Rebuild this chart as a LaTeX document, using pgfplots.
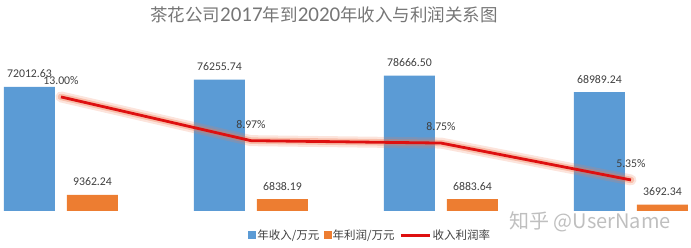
\documentclass[border=0pt]{standalone}
\usepackage{fontspec}
\setmainfont{Carlito}
\newfontfamily\cjk{Noto Sans CJK SC}
\usepackage{pgfplots}
\pgfplotsset{compat=1.18}
\definecolor{cblue}{HTML}{5B9BD5}
\definecolor{corange}{HTML}{ED7D31}
\definecolor{cred}{HTML}{DE1010}
\definecolor{cglow}{HTML}{F07A50}
\definecolor{lbl}{HTML}{404040}
\definecolor{ttl}{HTML}{767676}
\pgfplotsset{
  base/.style={
    at={(0pt,37pt)}, anchor=south west,
    scale only axis, width=691pt, height=155pt,
    xmin=-0.321, xmax=3.316,
    axis lines=none, ticks=none, clip=false,
  },
  bluesq/.style={legend image code/.code={\fill[cblue] (0pt,-3.5pt) rectangle (7pt,3.5pt);}},
  orangesq/.style={legend image code/.code={\fill[corange] (0pt,-3.5pt) rectangle (7pt,3.5pt);}},
  redln/.style={legend image code/.code={\draw[cred, line width=3pt] (0pt,0pt) -- (29pt,0pt);}},
}
\begin{document}
\begin{tikzpicture}
\path[use as bounding box] (0pt,0pt) rectangle (691pt,248pt);
\begin{axis}[base,
  ymin=0, ymax=90000,
  ybar, bar width=51pt,
  nodes near coords, point meta=explicit symbolic,
  every node near coord/.append style={font=\fontsize{11.8}{12}\selectfont, text=lbl, yshift=5.5pt},
]
\addplot[draw=none, fill=cblue, bar shift=-31.5pt] coordinates {
 (0,72012.63) [72012.63]
 (1,76255.74) [76255.74]
 (2,78666.50) [78666.50]
 (3,68989.24) [68989.24]
};
\addplot[draw=none, fill=corange, bar shift=31.5pt] coordinates {
 (0,9362.24) [9362.24]
 (1,6838.19) [6838.19]
 (2,6883.64) [6883.64]
 (3,3692.34) [3692.34]
};
\end{axis}
\begin{axis}[base,
  ymin=2.49, ymax=16.77,
  legend columns=3,
  legend style={draw=none, fill=none, at={(rel axis cs:0.5355,-0.155)}, anchor=center,
    font=\cjk\fontsize{11.5}{12}\selectfont, text=lbl,
    nodes={inner xsep=1.5pt, inner ysep=1pt},
    /tikz/every even column/.append style={column sep=3pt}},
]
\addlegendimage{bluesq}
\addlegendentry{年收入/万元}
\addlegendimage{orangesq}
\addlegendentry{年利润/万元}
\addlegendimage{redln}
\addlegendentry{收入利润率}
\addplot[forget plot, cglow, opacity=0.2, line width=11pt, line join=round, line cap=round] coordinates {(0,13.00) (1,8.97) (2,8.75) (3,5.35)};
\addplot[forget plot, cglow, opacity=0.35, line width=6.5pt, line join=round, line cap=round] coordinates {(0,13.00) (1,8.97) (2,8.75) (3,5.35)};
\addplot[forget plot, cred, line width=2.8pt, line join=round,
  nodes near coords={\pgfplotspointmeta\%}, point meta=explicit symbolic,
  every node near coord/.append style={font=\fontsize{11.8}{12}\selectfont, text=lbl, yshift=7.5pt}]
 coordinates {
 (0,13.00) [13.00]
 (1,8.97) [8.97]
 (2,8.75) [8.75]
 (3,5.35) [5.35]
};
\end{axis}
\node[anchor=base, text=ttl] at (324pt,226pt) {{\cjk\fontsize{17.5}{18}\selectfont 茶花公司}{\fontsize{21}{22}\selectfont 2017}{\cjk\fontsize{17.5}{18}\selectfont 年到}{\fontsize{21}{22}\selectfont 2020}{\cjk\fontsize{17.5}{18}\selectfont 年收入与利润关系图}};
\node[text=black!25, font=\cjk\fontsize{20}{21}\selectfont, anchor=center] at (590pt,26pt) {知乎 @UserName};
\end{tikzpicture}
\end{document}
